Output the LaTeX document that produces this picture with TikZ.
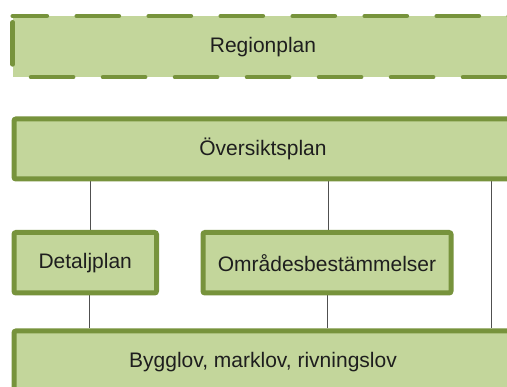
\documentclass[tikz,border=0pt]{standalone}
\usepackage{fontspec}
\setmainfont{Liberation Sans}
\usetikzlibrary{backgrounds}
\definecolor{boxfill}{HTML}{C3D69B}
\definecolor{boxline}{HTML}{77933C}
\definecolor{txt}{HTML}{1E1E1E}
\definecolor{conn}{HTML}{505050}
\begin{document}
\begin{tikzpicture}[x=1pt,y=-1pt,
  planbox/.style={fill=boxfill, draw=boxline, line width=5pt, rounded corners=2pt,
    inner sep=0pt, text=txt, font=\fontsize{21}{25}\selectfont},
  regbox/.style={fill=boxfill, draw=none, inner sep=0pt, text=txt,
    font=\fontsize{21}{25}\selectfont},
  dashedge/.style={draw=boxline, line width=4.7pt, line cap=round,
    dash pattern=on 42pt off 30pt},
  connector/.style={draw=conn, line width=0.8pt}]
\clip (0,0) rectangle (507,387);
% Regionplan (dashed border)
\node[regbox, minimum width=500pt, minimum height=60.7pt] (reg) at (263,46.6) {Regionplan};
\draw[dashedge, dash phase=8pt] (reg.north west) -- (reg.north east);
\draw[dashedge, dash phase=53.7pt] (reg.south west) -- (reg.south east);
\draw[dashedge, dash phase=65.7pt] (reg.north west) -- (reg.south west);
% Boxes
\node[planbox, minimum width=498pt, minimum height=60pt] (ov) at (263,149) {Översiktsplan};
\node[planbox, minimum width=142.5pt, minimum height=60.5pt] (det) at (85.25,262.75) {Detaljplan};
\node[planbox, minimum width=248pt, minimum height=60.5pt] (omr) at (327,262.75) {Områdesbestämmelser};
\node[planbox, minimum width=498pt, minimum height=62pt] (byg) at (263,362) {Bygglov, marklov, rivningslov};
% Connectors
\begin{scope}[on background layer]
\fill[white] (0,0) rectangle (507,387);
\draw[connector] ([xshift=4.75pt]det.north) -- ([xshift=4.75pt]det.north |- ov.south);
\draw[connector] ([xshift=1.5pt]omr.north) -- ([xshift=1.5pt]omr.north |- ov.south);
\draw[connector] ([xshift=228pt]ov.south) -- ([xshift=228pt]ov.south |- byg.north);
\draw[connector] ([xshift=4pt]det.south) -- ([xshift=4pt]det.south |- byg.north);
\draw[connector] ([xshift=0.5pt]omr.south) -- ([xshift=0.5pt]omr.south |- byg.north);
\end{scope}
\end{tikzpicture}
\end{document}
